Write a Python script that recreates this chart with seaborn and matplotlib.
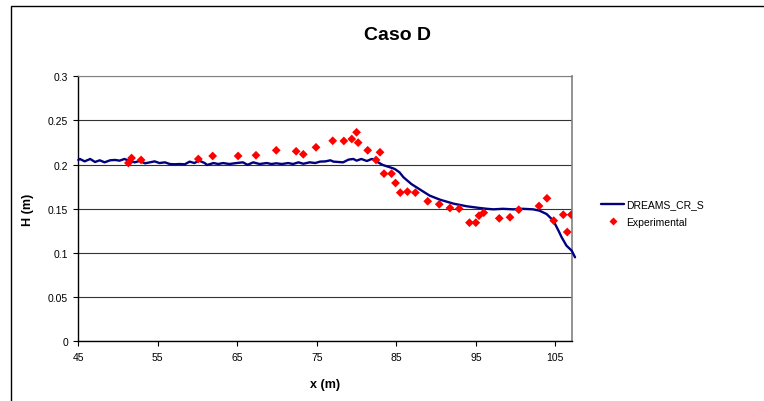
import matplotlib
matplotlib.use("Agg")
import matplotlib.pyplot as plt
import seaborn as sns
import pandas as pd
from matplotlib.lines import Line2D
from matplotlib.patches import Rectangle

# Simulated free-surface (DREAMS_CR_S)
sim_x = [45.0, 45.2, 45.8, 46.5, 47.1, 47.7, 48.3, 49.0, 49.6, 50.2, 50.8, 51.5,
         52.1, 52.7, 53.4, 54.0, 54.6, 55.2, 55.9, 56.5, 57.1, 57.7, 58.4, 59.0,
         59.6, 60.2, 60.9, 61.2, 62.0, 62.6, 63.2, 64.0, 64.9, 65.7, 66.3, 67.0,
         67.8, 68.7, 69.3, 69.9, 70.6, 71.4, 72.0, 72.7, 73.3, 74.1, 74.8, 75.4,
         76.1, 76.7, 77.1, 78.3, 79.0, 79.6, 80.0, 80.6, 81.3, 81.9, 82.3, 82.7,
         83.3, 84.2, 84.8, 85.4, 85.9, 86.9, 88.0, 89.2, 90.5, 92.2, 93.9, 95.5,
         96.4, 97.2, 98.4, 99.7, 100.9, 102.2, 103.0, 103.9, 104.75, 105.4, 105.8,
         106.4, 107.06, 107.48]
sim_y = [0.2053, 0.2064, 0.2037, 0.2064, 0.2030, 0.2049, 0.2026, 0.2049, 0.2053,
         0.2045, 0.2064, 0.2041, 0.2026, 0.2041, 0.2015, 0.2026, 0.2037, 0.2018,
         0.2026, 0.2007, 0.2004, 0.2007, 0.2004, 0.2034, 0.2018, 0.2045, 0.2018,
         0.1996, 0.2018, 0.2007, 0.2018, 0.2007, 0.2018, 0.2026, 0.1998, 0.2026,
         0.2007, 0.2018, 0.2007, 0.2015, 0.2007, 0.2018, 0.2007, 0.2026, 0.2010,
         0.2026, 0.2018, 0.2034, 0.2037, 0.2049, 0.2034, 0.2026, 0.2057, 0.2064,
         0.2045, 0.2064, 0.2041, 0.2064, 0.2057, 0.2026, 0.1996, 0.1970, 0.1951,
         0.1913, 0.1857, 0.1780, 0.1717, 0.1649, 0.1603, 0.1558, 0.1528, 0.1509,
         0.1500, 0.1494, 0.1500, 0.1494, 0.1500, 0.1494, 0.1479, 0.1441, 0.1366,
         0.1252, 0.1177, 0.1083, 0.1026, 0.0951]

# Experimental measurements
exp_x = [51.3, 51.7, 52.9, 60.1, 61.9, 65.1, 67.35, 69.9, 72.4, 73.3, 74.9,
         77.0, 78.4, 79.4, 80.0, 80.2, 81.4, 82.45, 82.95, 83.45, 84.4, 84.9,
         85.5, 86.4, 87.4, 88.95, 90.4, 91.75, 92.9, 94.2, 95.0, 95.4, 96.0,
         97.95, 99.3, 100.4, 102.95, 103.95, 104.8, 106.0, 106.5, 107.0]
exp_y = [0.2019, 0.2075, 0.2053, 0.2064, 0.2098, 0.2098, 0.2106, 0.2162, 0.2151,
         0.2117, 0.2196, 0.2270, 0.2268, 0.2290, 0.2366, 0.2249, 0.2162, 0.2053,
         0.2140, 0.1898, 0.1898, 0.1792, 0.1683, 0.1694, 0.1683, 0.1585, 0.1551,
         0.1509, 0.1501, 0.1343, 0.1343, 0.1422, 0.1456, 0.1392, 0.1404, 0.1490,
         0.1532, 0.1619, 0.1366, 0.1433, 0.1237, 0.1433]

x_ticks = [45, 55, 65, 75, 85, 95, 105]
y_ticks = [0, 0.05, 0.1, 0.15, 0.2, 0.25, 0.3]
y_tick_labels = ["0", "0.05", "0.1", "0.15", "0.2", "0.25", "0.3"]

sns.set_style("white")
plt.rcParams["font.family"] = ["Liberation Sans", "DejaVu Sans"]
plt.rcParams["text.color"] = "black"
plt.rcParams["axes.labelcolor"] = "black"
plt.rcParams["xtick.color"] = "black"
plt.rcParams["ytick.color"] = "black"

W, H = 764, 402
fig = plt.figure(figsize=(W / 100, H / 100), dpi=100)
ax = fig.add_axes([78.3 / W, 1 - 342.3 / H, (571.7 - 78.3) / W, 265 / H])

sim_df = pd.DataFrame({"x": sim_x, "H": sim_y})
exp_df = pd.DataFrame({"x": exp_x, "H": exp_y})

sns.lineplot(data=sim_df, x="x", y="H", ax=ax, color="#000080", linewidth=1.7,
             sort=False, estimator=None, clip_on=False, zorder=3)
sns.scatterplot(data=exp_df, x="x", y="H", ax=ax, color="#ff0000", marker="D",
                s=20, edgecolor="none", zorder=4)

ax.set_xlim(45, 107.06)
ax.set_ylim(0, 0.3)
ax.set_xticks(x_ticks)
ax.set_yticks(y_ticks)
ax.set_yticklabels(y_tick_labels)
ax.tick_params(axis="both", labelsize=7.5, direction="out", length=3.5, width=0.8,
               color="black", labelcolor="black", pad=4, bottom=True, left=True)
ax.yaxis.grid(True, color="#333333", linewidth=0.8)
ax.set_axisbelow(True)
for s in ["left", "bottom"]:
    ax.spines[s].set_color("black")
    ax.spines[s].set_linewidth(1.0)
ax.spines["right"].set_color("#808080")
ax.spines["right"].set_linewidth(1.2)
ax.spines["top"].set_color("#808080")
ax.spines["top"].set_linewidth(0.8)

ax.set_xlabel("x (m)", fontsize=9, fontweight="bold", labelpad=12, color="black")
ax.set_ylabel("H (m)", fontsize=9, fontweight="bold", labelpad=10, color="black")

fig.text(398 / W, 1 - 36 / H, "Caso D", fontsize=14, fontweight="bold",
         ha="center", va="center", color="black")

handles = [Line2D([0], [0], color="#000080", linewidth=1.7),
           Line2D([0], [0], color="#ff0000", marker="D", linestyle="none",
                  markersize=4.3, markeredgecolor="none")]
leg = fig.legend(handles, ["DREAMS_CR_S", "Experimental"], loc="center left",
                 bbox_to_anchor=(592 / W, 1 - 214 / H), frameon=False, fontsize=7.5,
                 handlelength=2.2, handletextpad=0.2, labelspacing=0.7)
for t in leg.get_texts():
    t.set_color("black")

# chart-area border (partially visible)
fig.patches.append(Rectangle((11 / W, -0.05), 1.2, 1 - 7 / H + 0.05,
                             transform=fig.transFigure, fill=False,
                             edgecolor="black", linewidth=1.0))

fig.savefig("out.png", dpi=100)
